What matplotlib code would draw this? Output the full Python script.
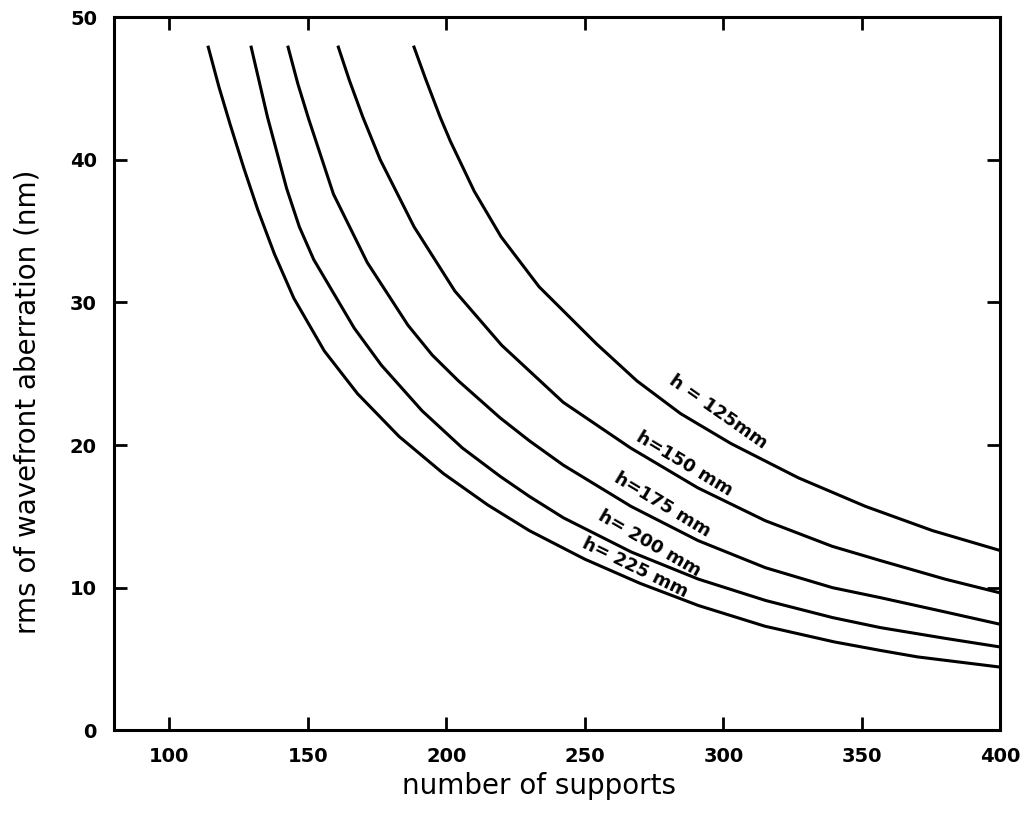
import matplotlib
matplotlib.use("Agg")
import matplotlib.pyplot as plt

# curves: number of supports vs rms wavefront aberration (nm)
x_125 = [188.2, 192.5, 197.8, 201.5, 210.1, 219.8, 233.5, 254.2, 268.8, 284.6, 302.8, 327.1, 351.3, 375.5, 400]
y_125 = [48, 45.7, 43.0, 41.3, 37.8, 34.6, 31.1, 27.1, 24.5, 22.2, 20.1, 17.7, 15.7, 14.0, 12.6]

x_150 = [160.9, 165, 169.9, 176.2, 188.4, 203.1, 220, 242.2, 266.5, 290.8, 315.1, 339.3, 356.7, 380, 400]
y_150 = [48, 45.6, 43.0, 40.0, 35.3, 30.8, 27.0, 23.0, 19.8, 17.0, 14.7, 12.9, 11.9, 10.6, 9.63]

x_175 = [142.8, 146.5, 150.3, 159.3, 171.5, 186.2, 195, 204.4, 219.5, 230, 242.2, 266.7, 290.9, 315.2, 339.4, 356.7, 380, 400]
y_175 = [48, 45.3, 42.9, 37.6, 32.8, 28.4, 26.3, 24.5, 21.9, 20.3, 18.6, 15.7, 13.3, 11.4, 10.0, 9.3, 8.3, 7.43]

x_200 = [129.5, 132.5, 135.5, 142.4, 147, 152.2, 166.8, 176.6, 191.3, 205.8, 219.5, 230, 242.3, 266.8, 291, 315.3, 339.5, 356.7, 380, 400]
y_200 = [48, 45.5, 43.0, 38.0, 35.3, 33.0, 28.2, 25.6, 22.4, 19.8, 17.8, 16.4, 14.9, 12.5, 10.6, 9.1, 7.9, 7.2, 6.45, 5.84]

x_225 = [114, 118, 122, 127, 132, 138, 145, 156, 168, 183, 199, 215, 230, 250, 270, 291, 315, 340, 356.7, 370, 400]
y_225 = [48, 45.1, 42.5, 39.4, 36.5, 33.4, 30.3, 26.6, 23.6, 20.6, 18.0, 15.8, 14.0, 12.0, 10.3, 8.75, 7.3, 6.2, 5.6, 5.15, 4.43]

labels = ['h = 125mm', 'h=150 mm', 'h=175 mm', 'h= 200 mm', 'h= 225 mm']
label_x = [298, 286, 278, 273.3, 268]
label_y = [22.3, 18.7, 15.8, 13.1, 11.4]
label_rot = [-35, -31, -31, -30, -26]

x_ticks = [100, 150, 200, 250, 300, 350, 400]
y_ticks = [0, 10, 20, 30, 40, 50]

plt.rcParams['font.family'] = ['DejaVu Sans']

fig = plt.figure(figsize=(10.24, 8.16), dpi=100)
ax = fig.add_axes([0.111, 0.105, 0.866, 0.874])

for xs, ys in [(x_125, y_125), (x_150, y_150), (x_175, y_175), (x_200, y_200), (x_225, y_225)]:
    ax.plot(xs, ys, color='black', lw=2.2, solid_capstyle='butt', solid_joinstyle='round')

for t, lx, ly, r in zip(labels, label_x, label_y, label_rot):
    ax.text(lx, ly, t, rotation=r, ha='center', va='center', fontsize=13,
            fontweight='bold', rotation_mode='anchor')

ax.set_xlim(80, 400)
ax.set_ylim(0, 50)
ax.set_xticks(x_ticks)
ax.set_yticks(y_ticks)
ax.tick_params(direction='in', length=9.5, width=2, labelsize=14,
               top=True, right=True, pad=12)
for lab in ax.get_xticklabels() + ax.get_yticklabels():
    lab.set_fontweight('bold')
for s in ax.spines.values():
    s.set_linewidth(2.2)

ax.set_xlabel('number of supports', fontsize=20)
ax.set_ylabel('rms of wavefront aberration (nm)', fontsize=20)
ax.xaxis.set_label_coords(0.48, -0.058)
ax.yaxis.set_label_coords(-0.081, 0.46)

fig.savefig('out.png', dpi=100)
